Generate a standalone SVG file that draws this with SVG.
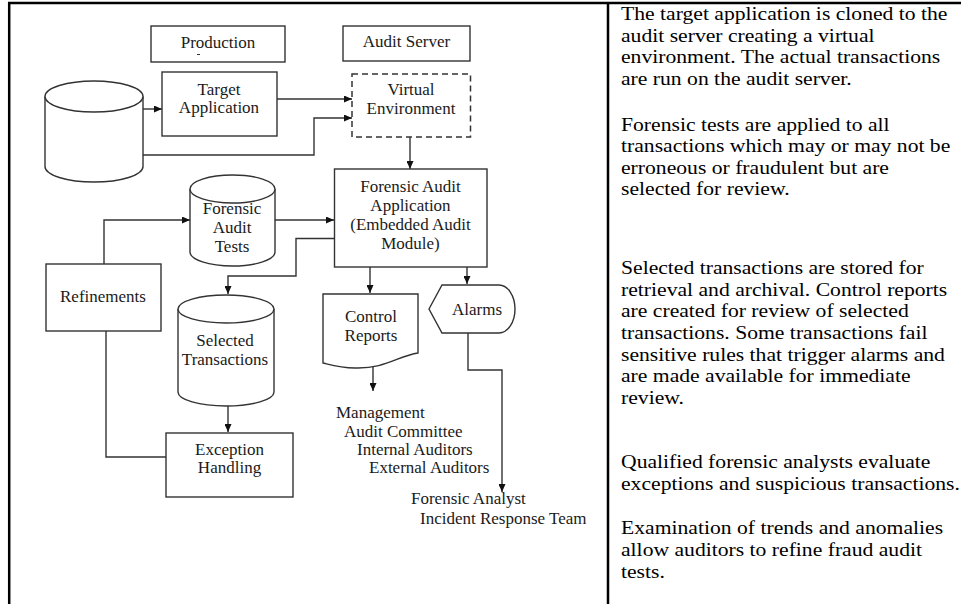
<svg xmlns="http://www.w3.org/2000/svg" width="961" height="604" viewBox="0 0 961 604">
<style>
.frame{stroke:#000;stroke-width:2.5;fill:none}
.shape{fill:#fff;stroke:#333;stroke-width:1.4}
.dash{fill:#fff;stroke:#333;stroke-width:1.5;stroke-dasharray:6,4}
.conn{fill:none;stroke:#333;stroke-width:1.4}
.lbl{font-family:"Liberation Serif","Times New Roman",serif;font-size:17px;fill:#1a1a1a;text-anchor:middle}
.lst{font-family:"Liberation Serif","Times New Roman",serif;font-size:17px;fill:#1a1a1a}
.desc{font-family:"Liberation Serif","Times New Roman",serif;font-size:19.5px;fill:#000}
</style>
<defs>
<marker id="ah" viewBox="0 0 8 7" refX="8" refY="3.5" markerWidth="8" markerHeight="7" markerUnits="userSpaceOnUse" orient="auto">
<path d="M0,0 L8,3.5 L0,7 z" fill="#111"/>
</marker>
</defs>
<rect width="961" height="604" fill="#fff"/>
<g id="frame">
<line class="frame" x1="8" y1="3" x2="961" y2="3"/>
<line class="frame" x1="9.2" y1="2" x2="9.2" y2="604"/>
<line class="frame" x1="608" y1="2" x2="608" y2="604"/>
</g>
<g id="connectors">
<path class="conn" d="M143,109 H162" marker-end="url(#ah)"/>
<path class="conn" d="M277,99 H352" marker-end="url(#ah)"/>
<path class="conn" d="M143,155 H314 V118 H352" marker-end="url(#ah)"/>
<path class="conn" d="M410,137 V169" marker-end="url(#ah)"/>
<path class="conn" d="M268,220 H334" marker-end="url(#ah)"/>
<path class="conn" d="M334,238.5 H296 V276 H228 V294" marker-end="url(#ah)"/>
<path class="conn" d="M370,267 V293" marker-end="url(#ah)"/>
<path class="conn" d="M467,267 V284" marker-end="url(#ah)"/>
<path class="conn" d="M228,406 V432" marker-end="url(#ah)"/>
<path class="conn" d="M104,264 V220 H190" marker-end="url(#ah)"/>
<path class="conn" d="M106,331 V457 H166"/>
<path class="conn" d="M373,365 V391" marker-end="url(#ah)"/>
<path class="conn" d="M468,333 V370 H502 V492" marker-end="url(#ah)"/>
</g>
<g id="production">
<rect class="shape" x="151" y="26" width="134" height="36"/>
<text class="lbl" x="218" y="47.5">Production</text>
<line x1="197" y1="54.5" x2="200" y2="54.5" stroke="#333" stroke-width="1"/>
</g>
<g id="audit-server">
<rect class="shape" x="343" y="26" width="127" height="35"/>
<text class="lbl" x="406.5" y="47">Audit Server</text>
</g>
<g id="database">
<path class="shape" d="M45,96.5 V166.5 A49,15.5 0 0,0 143,166.5 V96.5"/>
<ellipse class="shape" cx="94" cy="96.5" rx="49" ry="15.5"/>
</g>
<g id="target-application">
<rect class="shape" x="162" y="72" width="115" height="64"/>
<text class="lbl" x="219" y="95">Target</text>
<text class="lbl" x="219" y="113">Application</text>
</g>
<g id="virtual-environment">
<rect class="dash" x="352" y="74" width="118.5" height="63"/>
<text class="lbl" x="411" y="94.5">Virtual</text>
<text class="lbl" x="411" y="113.5">Environment</text>
</g>
<g id="forensic-audit-application">
<rect class="shape" x="334.5" y="169" width="152.5" height="98"/>
<text class="lbl" x="410.5" y="192">Forensic Audit</text>
<text class="lbl" x="410.5" y="210.5">Application</text>
<text class="lbl" x="410.5" y="230">(Embedded Audit</text>
<text class="lbl" x="410.5" y="249">Module)</text>
</g>
<g id="forensic-audit-tests">
<path class="shape" d="M190,189 V252 A42.5,14 0 0,0 275,252 V189"/>
<ellipse class="shape" cx="232.5" cy="189" rx="42.5" ry="14"/>
<text class="lbl" x="232" y="213.5">Forensic</text>
<text class="lbl" x="232" y="233">Audit</text>
<text class="lbl" x="232" y="252">Tests</text>
</g>
<g id="refinements">
<rect class="shape" x="46" y="264" width="115" height="67"/>
<text class="lbl" x="103" y="302">Refinements</text>
</g>
<g id="selected-transactions">
<path class="shape" d="M178,309 V392 A48,14 0 0,0 274,392 V309"/>
<ellipse class="shape" cx="226" cy="309" rx="48" ry="14"/>
<text class="lbl" x="225" y="346">Selected</text>
<text class="lbl" x="225" y="365">Transactions</text>
</g>
<g id="exception-handling">
<rect class="shape" x="166" y="433" width="127" height="64"/>
<text class="lbl" x="229.5" y="455">Exception</text>
<text class="lbl" x="229.5" y="473">Handling</text>
</g>
<g id="control-reports">
<path class="shape" d="M323,294 H418 V353 C398,356 385,369 355,368 C340,368 331,365 323,363 Z"/>
<text class="lbl" x="371" y="322">Control</text>
<text class="lbl" x="371" y="340.5">Reports</text>
</g>
<g id="alarms">
<path class="shape" d="M429,309 L442,285 H499 A16,24 0 0,1 499,333 H442 Z"/>
<text class="lbl" x="477" y="315">Alarms</text>
</g>
<g id="recipients">
<text class="lst" x="336" y="417.5">Management</text>
<text class="lst" x="344" y="436.5">Audit Committee</text>
<text class="lst" x="357" y="455">Internal Auditors</text>
<text class="lst" x="369" y="473">External Auditors</text>
<text class="lst" x="411" y="504">Forensic Analyst</text>
<text class="lst" x="420" y="524">Incident Response Team</text>
</g>
<g id="description" transform="translate(621,0) scale(1.11,1)">
<text class="desc" x="0" y="20.5">The target application is cloned to the</text>
<text class="desc" x="0" y="42">audit server creating a virtual</text>
<text class="desc" x="0" y="63.5">environment. The actual transactions</text>
<text class="desc" x="0" y="85">are run on the audit server.</text>
<text class="desc" x="0" y="131">Forensic tests are applied to all</text>
<text class="desc" x="0" y="152.5">transactions which may or may not be</text>
<text class="desc" x="0" y="174">erroneous or fraudulent but are</text>
<text class="desc" x="0" y="195.5">selected for review.</text>
<text class="desc" x="0" y="274">Selected transactions are stored for</text>
<text class="desc" x="0" y="295.7">retrieval and archival. Control reports</text>
<text class="desc" x="0" y="317.4">are created for review of selected</text>
<text class="desc" x="0" y="339">transactions. Some transactions fail</text>
<text class="desc" x="0" y="360.7">sensitive rules that trigger alarms and</text>
<text class="desc" x="0" y="382.4">are made available for immediate</text>
<text class="desc" x="0" y="404">review.</text>
<text class="desc" x="0" y="468">Qualified forensic analysts evaluate</text>
<text class="desc" x="0" y="490">exceptions and suspicious transactions.</text>
<text class="desc" x="0" y="534">Examination of trends and anomalies</text>
<text class="desc" x="0" y="556">allow auditors to refine fraud audit</text>
<text class="desc" x="0" y="578">tests.</text>
</g>
</svg>
